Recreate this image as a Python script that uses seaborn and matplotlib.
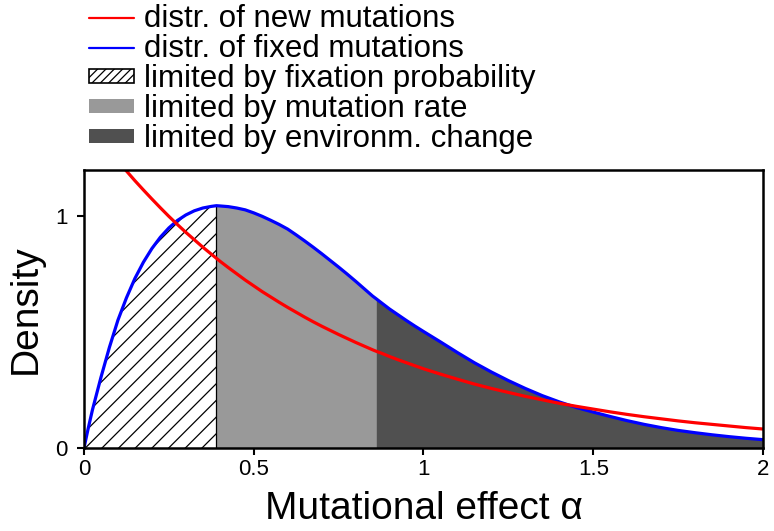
import matplotlib
matplotlib.use("Agg")
import matplotlib.pyplot as plt
import seaborn as sns
import pandas as pd
from matplotlib.patches import Patch
from matplotlib.lines import Line2D

# Mutational effect grid (with the two regime boundaries included as samples)
alpha = [0.000, 0.0125, 0.025, 0.050, 0.075, 0.100, 0.125, 0.150, 0.175, 0.200,
         0.225, 0.250, 0.275, 0.300, 0.325, 0.350, 0.375, 0.390, 0.400, 0.425,
         0.450, 0.475, 0.500, 0.525, 0.550, 0.575, 0.600, 0.625, 0.650, 0.675,
         0.700, 0.725, 0.750, 0.775, 0.800, 0.825, 0.850, 0.860, 0.875, 0.900,
         0.925, 0.950, 0.975, 1.000, 1.050, 1.100, 1.150, 1.200, 1.250, 1.300,
         1.350, 1.400, 1.450, 1.500, 1.550, 1.600, 1.650, 1.700, 1.750, 1.800,
         1.850, 1.900, 1.950, 2.000]

# Density of new mutations
new_mut = [1.430, 1.405, 1.380, 1.331, 1.285, 1.240, 1.196, 1.154, 1.114, 1.075,
           1.037, 1.000, 0.965, 0.931, 0.899, 0.867, 0.837, 0.819, 0.807, 0.779,
           0.752, 0.725, 0.700, 0.675, 0.652, 0.629, 0.607, 0.586, 0.565, 0.545,
           0.526, 0.508, 0.490, 0.473, 0.456, 0.440, 0.424, 0.418, 0.410, 0.395,
           0.381, 0.368, 0.355, 0.342, 0.319, 0.297, 0.276, 0.257, 0.240, 0.223,
           0.208, 0.193, 0.180, 0.168, 0.156, 0.145, 0.135, 0.126, 0.117, 0.109,
           0.102, 0.095, 0.088, 0.082]

# Density of fixed mutations
fixed_mut = [0.000, 0.085, 0.165, 0.305, 0.435, 0.552, 0.648, 0.732, 0.802, 0.861,
             0.910, 0.950, 0.982, 1.006, 1.024, 1.036, 1.043, 1.046, 1.045, 1.042,
             1.036, 1.028, 1.015, 1.000, 0.983, 0.965, 0.945, 0.920, 0.894, 0.867,
             0.839, 0.810, 0.781, 0.751, 0.720, 0.688, 0.656, 0.645, 0.628, 0.600,
             0.575, 0.550, 0.526, 0.503, 0.458, 0.412, 0.368, 0.328, 0.291, 0.257,
             0.226, 0.199, 0.175, 0.155, 0.136, 0.118, 0.102, 0.088, 0.076, 0.066,
             0.057, 0.049, 0.042, 0.036]

# Regime boundaries
fix_limit = 0.39
env_limit = 0.86

x_ticks = [0, 0.5, 1, 1.5, 2]
x_tick_labels = ["0", "0.5", "1", "1.5", "2"]
y_ticks = [0, 1]
y_tick_labels = ["0", "1"]

labels = ["distr. of new mutations", "distr. of fixed mutations",
          "limited by fixation probability", "limited by mutation rate",
          "limited by environm. change"]

df = pd.DataFrame({"alpha": alpha, "new": new_mut, "fixed": fixed_mut})

sns.set_theme(style="white")
plt.rcParams["font.family"] = ["Liberation Sans", "DejaVu Sans"]
plt.rcParams["text.color"] = "black"
plt.rcParams["axes.labelcolor"] = "black"
plt.rcParams["hatch.linewidth"] = 0.9
plt.rcParams["hatch.color"] = "black"

fig = plt.figure(figsize=(7.74, 5.31), dpi=100)
ax = fig.add_axes([0.1085, 0.1563, 0.8773, 0.5235])

light = "#999999"
dark = "#505050"

m1 = df["alpha"] <= fix_limit
m2 = (df["alpha"] >= fix_limit) & (df["alpha"] <= env_limit)
m3 = df["alpha"] >= env_limit

ax.fill_between(df["alpha"][m1], 0, df["fixed"][m1], facecolor="white",
                edgecolor="black", hatch="//", linewidth=0, zorder=1)
ax.fill_between(df["alpha"][m2], 0, df["fixed"][m2], facecolor=light,
                linewidth=0, zorder=1)
ax.fill_between(df["alpha"][m3], 0, df["fixed"][m3], facecolor=dark,
                linewidth=0, zorder=1)
peak = df.loc[df["alpha"] == fix_limit, "fixed"].iloc[0]
ax.plot([fix_limit, fix_limit], [0, peak], color="black", lw=0.9, zorder=2)

sns.lineplot(data=df, x="alpha", y="fixed", color="#0000ff", lw=2.3, ax=ax, zorder=3)
sns.lineplot(data=df, x="alpha", y="new", color="#ff0000", lw=2.3, ax=ax, zorder=4)

ax.set_xlim(0, 2)
ax.set_ylim(0, 1.2)
ax.set_xticks(x_ticks)
ax.set_xticklabels(x_tick_labels)
ax.set_yticks(y_ticks)
ax.set_yticklabels(y_tick_labels)
ax.tick_params(bottom=True, left=True, direction="out", length=5, width=1.5,
               labelsize=16, colors="black")
ax.tick_params(axis="x", pad=3)
ax.tick_params(axis="y", pad=7)
for s in ax.spines.values():
    s.set_linewidth(1.8)
    s.set_color("black")
    s.set_zorder(5)

ax.set_xlabel("Mutational effect α", fontsize=28, labelpad=8)
ax.set_ylabel("Density", fontsize=28, labelpad=8)

handles = [
    Line2D([], [], color="#ff0000", lw=1.6),
    Line2D([], [], color="#0000ff", lw=1.6),
    Patch(facecolor="white", edgecolor="black", hatch="////", linewidth=1.2),
    Patch(facecolor=light, edgecolor="none"),
    Patch(facecolor=dark, edgecolor="none"),
]
fig.legend(handles, labels, loc="upper left", bbox_to_anchor=(89 / 774, 1 - 4 / 531),
           frameon=False, fontsize=22.5, borderpad=0, borderaxespad=0,
           handlelength=1.45, handleheight=0.3, handletextpad=0.3,
           labelspacing=0.0)

fig.savefig("out.png", dpi=100)
